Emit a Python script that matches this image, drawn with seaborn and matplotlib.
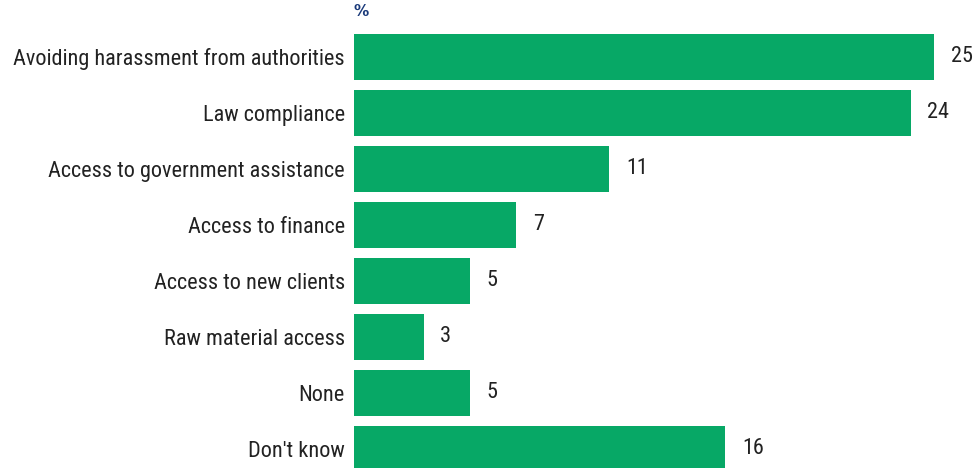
import matplotlib
matplotlib.use("Agg")
import matplotlib.pyplot as plt
import seaborn as sns
import pandas as pd

categories = [
    "Avoiding harassment from authorities",
    "Law compliance",
    "Access to government assistance",
    "Access to finance",
    "Access to new clients",
    "Raw material access",
    "None",
    "Don't know",
]
values = [25, 24, 11, 7, 5, 3, 5, 16]

sns.set_theme(style="white")
plt.rcParams["font.family"] = ["Roboto Condensed", "DejaVu Sans"]

df = pd.DataFrame({"category": categories, "value": values})

fig = plt.figure(figsize=(9.79, 4.68), dpi=100)
ax = fig.add_axes([354 / 979, 0.0, 1 - 354 / 979, 1 - 29 / 468])

sns.barplot(data=df, x="value", y="category", color="#07a866", saturation=1,
            width=0.82, linewidth=0, ax=ax)

ax.set_xlim(0, 26.94)
ax.set_ylim(7.34, -0.5)
for s in ax.spines.values():
    s.set_visible(False)
ax.set_xticks([])
ax.set_xlabel("")
ax.set_ylabel("")
ax.tick_params(axis="y", length=0, pad=6.5, labelsize=16, labelcolor="#222222")

for i, v in enumerate(values):
    ax.annotate(str(v), xy=(v, i), xytext=(12, 0), textcoords="offset points",
                va="center", ha="left", fontsize=16, color="#222222")

fig.text(353 / 979, 1 - 11 / 468, "%", fontsize=11, fontweight="bold",
         color="#1a3a7a", ha="left", va="center", family=["DejaVu Sans"])

fig.savefig("out.png", dpi=100)
